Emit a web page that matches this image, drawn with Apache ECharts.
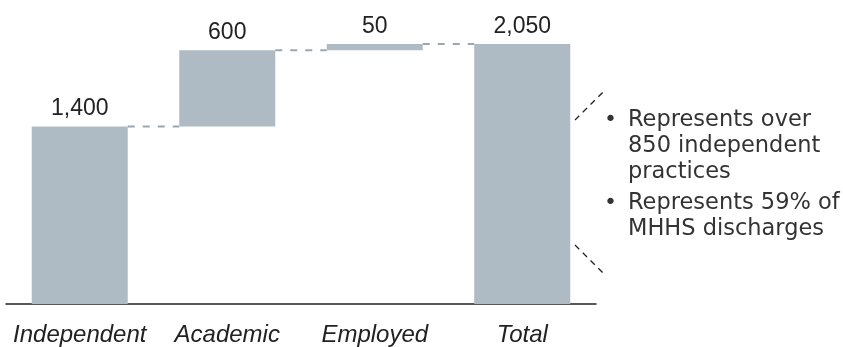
<!DOCTYPE html>
<html>
<head>
<meta charset="utf-8">
<script src="https://cdn.jsdelivr.net/npm/echarts@6/dist/echarts.min.js"></script>
<style>
  html, body { margin: 0; padding: 0; background: #fff; }
  #chart { width: 843px; height: 347px; }
</style>
</head>
<body>
<div id="chart"></div>
<script>
  // waterfall data
  const categories = ["Independent", "Academic", "Employed", "Total"];
  const steps = [1400, 600, 50, 2050];
  const isTotal = [false, false, false, true];
  const noteLines = [
    ["Represents over", "850 independent", "practices"],
    ["Represents 59% of", "MHHS discharges"],
  ];

  // invisible base under each step, and the running level after each step
  const base = [];
  const levels = [];
  let running = 0;
  steps.forEach((v, i) => {
    if (isTotal[i]) {
      base.push(0);
      running = v;
    } else {
      base.push(running);
      running += v;
    }
    levels.push(running);
  });

  const barColor = "#afbbc4";
  const barWidth = 96;
  const fmt = (v) => v.toLocaleString("en-US");

  var chartDom = document.getElementById("chart");
  var myChart = echarts.init(chartDom);

  // bullet notes on the right
  const notes = [];
  let y = 122;
  noteLines.forEach((lines) => {
    notes.push({
      type: "text",
      left: 604,
      top: y - 13,
      style: { text: "•", font: '22px "DejaVu Sans"', fill: "#333" },
    });
    lines.forEach((t) => {
      notes.push({
        type: "text",
        left: 628,
        top: y - 13,
        style: { text: t, font: '22.5px "DejaVu Sans"', fill: "#333" },
      });
      y += 26;
    });
    y += 5;
  });

  var option = {
    animation: false,
    grid: { left: 6, right: 247, top: 44, bottom: 43 },
    xAxis: {
      type: "category",
      data: categories,
      axisLine: { lineStyle: { color: "#222", width: 1.5 } },
      axisTick: { show: false },
      axisLabel: {
        interval: 0,
        fontFamily: "Liberation Sans",
        fontStyle: "italic",
        fontSize: 24,
        color: "#222",
        margin: 19,
      },
    },
    yAxis: {
      type: "value",
      min: 0,
      max: 2050,
      show: false,
      splitLine: { show: false },
    },
    series: [
      {
        name: "base",
        type: "bar",
        stack: "w",
        barWidth: barWidth,
        itemStyle: { color: "transparent" },
        silent: true,
        data: base,
      },
      {
        name: "value",
        type: "bar",
        stack: "w",
        barWidth: barWidth,
        itemStyle: { color: barColor },
        label: {
          show: true,
          position: "top",
          distance: 6,
          fontFamily: "Liberation Sans",
          fontSize: 23,
          color: "#222",
          formatter: (p) => fmt(p.value),
        },
        data: steps,
      },
      {
        // dashed connectors between bar edges
        name: "connector",
        type: "custom",
        silent: true,
        data: levels.slice(0, -1).map((lv, i) => [i, lv]),
        renderItem: (params, api) => {
          const i = api.value(0);
          const a = api.coord([i, api.value(1)]);
          const b = api.coord([i + 1, api.value(1)]);
          return {
            type: "line",
            shape: { x1: a[0] + barWidth / 2, y1: a[1], x2: b[0] - barWidth / 2, y2: b[1] },
            style: { stroke: "#9aa7b2", lineWidth: 2, lineDash: [7, 8] },
          };
        },
      },
    ],
    graphic: [
      {
        type: "polyline",
        shape: { points: [[575, 120], [603, 92]] },
        style: { stroke: "#222", lineWidth: 1.3, lineDash: [6, 5], fill: null },
      },
      {
        type: "polyline",
        shape: { points: [[575, 245], [603, 273]] },
        style: { stroke: "#222", lineWidth: 1.3, lineDash: [6, 5], fill: null },
      },
      ...notes,
    ],
  };
  myChart.setOption(option);
</script>
</body>
</html>
